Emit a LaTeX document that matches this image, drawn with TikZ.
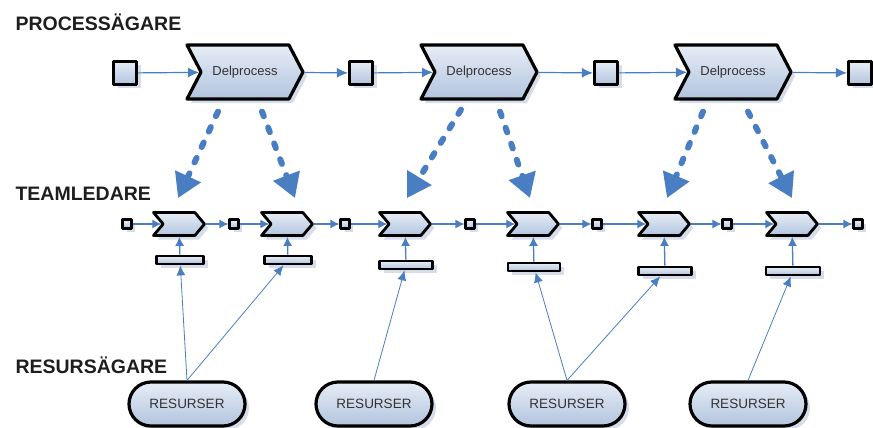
\documentclass[tikz,border=0pt]{standalone}
\usepackage{fontspec}
\setmainfont{Liberation Sans}
\usetikzlibrary{shapes.symbols,shapes.misc,shadows,arrows.meta,calc}
\definecolor{flowblue}{HTML}{4A7EC2}
\definecolor{boxtop}{HTML}{E6EDF6}
\definecolor{boxbot}{HTML}{B2C4DE}
\definecolor{shadowblue}{HTML}{D5DDEA}
\definecolor{labelgray}{HTML}{1E1E1E}
\definecolor{textgray}{HTML}{333333}
\tikzset{
  box/.style={draw=black, line width=3.2pt, line join=round, inner sep=0pt,
    top color=boxtop, bottom color=boxbot,
    drop shadow={fill=shadowblue, opacity=1, shadow xshift=4pt, shadow yshift=-4pt}},
  bigchev/.style={box, shape=signal, signal from=west, signal to=east,
    signal pointer angle=125, minimum width=116pt, minimum height=54pt,
    text=textgray, font=\fontsize{13}{15}\selectfont},
  smallchev/.style={box, line width=2.8pt, shape=signal, signal from=west, signal to=east,
    signal pointer angle=100, minimum width=51pt, minimum height=23pt},
  bigsq/.style={box, minimum size=23pt},
  smallsq/.style={box, line width=2.6pt, minimum size=8.5pt},
  bar/.style={box, line width=2.8pt, minimum width=47pt, minimum height=8pt},
  res/.style={box, shape=rounded rectangle, minimum width=116pt, minimum height=44pt,
    text=textgray, font=\fontsize{13.5}{16}\selectfont},
  role/.style={anchor=base west, text=labelgray, font=\bfseries\fontsize{19.5}{22}\selectfont},
  dasharrow/.style={draw=flowblue, line width=6pt, line cap=round, dash pattern=on 5pt off 12pt,
    -{Triangle[length=24pt,width=27pt]}}
}
\begin{document}
\begin{tikzpicture}[x=1pt,y=-1pt]
  \useasboundingbox (0,0) rectangle (873,428);

  % roles
  \node[role] (L1) at (12,31)  {PROCESSÄGARE};
  \node[role] (L2) at (12,200) {TEAMLEDARE};
  \node[role] (L3) at (12,373) {RESURSÄGARE};

  % process row
  \node[bigsq]   (S1) at (125,73) {};
  \node[bigchev] (P1) at (245,72) {Delprocess};
  \node[bigsq]   (S2) at (361,73) {};
  \node[bigchev] (P2) at (479,72) {Delprocess};
  \node[bigsq]   (S3) at (606,73) {};
  \node[bigchev] (P3) at (733,72) {Delprocess};
  \node[bigsq]   (S4) at (860,73) {};

  % team row
  \node[smallsq]   (q1) at (127,224) {};
  \node[smallchev] (t1) at (179,224) {};
  \node[smallsq]   (q2) at (234,224) {};
  \node[smallchev] (t2) at (287,224) {};
  \node[smallsq]   (q3) at (345,224) {};
  \node[smallchev] (t3) at (405,224) {};
  \node[smallsq]   (q4) at (470,224) {};
  \node[smallchev] (t4) at (533,224) {};
  \node[smallsq]   (q5) at (597,224) {};
  \node[smallchev] (t5) at (664,224) {};
  \node[smallsq]   (q6) at (727,224) {};
  \node[smallchev] (t6) at (792,224) {};
  \node[smallsq]   (q7) at (858,224) {};

  \node[bar] (b1) at (180,260) {};
  \node[bar] (b2) at (288,260) {};
  \node[bar, minimum width=53pt] (b3) at (406,265) {};
  \node[bar, minimum width=52pt] (b4) at (534,267) {};
  \node[bar, minimum width=53pt] (b5) at (665,271) {};
  \node[bar, minimum width=54pt] (b6) at (793,271) {};

  % resource row
  \node[res] (R1) at (187,404) {RESURSER};
  \node[res] (R2) at (374,404) {RESURSER};
  \node[res] (R3) at (567,404) {RESURSER};
  \node[res] (R4) at (748,404) {RESURSER};

  \begin{scope}[every edge/.style={draw=flowblue, line width=1.2pt, -{Latex[length=11pt,width=10pt]}}]
    \path (S1) edge (P1);
    \path (P1) edge (S2);
    \path (S2) edge (P2);
    \path (P2) edge (S3);
    \path (S3) edge (P3);
    \path (P3) edge (S4);
  \end{scope}

  \begin{scope}[every edge/.style={draw=flowblue, line width=1.3pt, -{Latex[length=9pt,width=9pt]}}]
    \path (q1) edge (t1);
    \path (t1) edge (q2);
    \path (q2) edge (t2);
    \path (t2) edge (q3);
    \path (q3) edge (t3);
    \path (t3) edge (q4);
    \path (q4) edge (t4);
    \path (t4) edge (q5);
    \path (q5) edge (t5);
    \path (t5) edge (q6);
    \path (q6) edge (t6);
    \path (t6) edge (q7);
    \path (b1) edge (t1);
    \path (b2) edge (t2);
    \path (b3) edge (t3);
    \path (b4) edge (t4);
    \path (b5) edge (t5);
    \path (b6) edge (t6);
  \end{scope}

  \begin{scope}[every edge/.style={draw=flowblue, line width=0.8pt, -{Latex[length=10pt,width=9pt]}}]
    \path (R1.north) edge (b1);
    \path (R1.north) edge (b2);
    \path (R2.north) edge (b3);
    \path (R3.north) edge (b4);
    \path (R3.north) edge (b5);
    \path (R4.north) edge (b6);
  \end{scope}

  % delegation
  \draw[dasharrow] ([xshift=-27pt,yshift=-11pt]P1.south) -- ([xshift=-1pt,yshift=13pt]t1.north);
  \draw[dasharrow] ([xshift=17pt,yshift=-11pt]P1.south) -- ([xshift=8pt,yshift=13pt]t2.north);
  \draw[dasharrow] ([xshift=-18pt,yshift=-9pt]P2.south) -- ([xshift=2pt,yshift=13pt]t3.north);
  \draw[dasharrow] ([xshift=21pt,yshift=-11pt]P2.south) -- ([xshift=-3pt,yshift=13pt]t4.north);
  \draw[dasharrow] ([xshift=-30pt,yshift=-11pt]P3.south) -- ([xshift=3pt,yshift=13pt]t5.north);
  \draw[dasharrow] ([xshift=15pt,yshift=-11pt]P3.south) -- ([xshift=0pt,yshift=13pt]t6.north);

\end{tikzpicture}
\end{document}
